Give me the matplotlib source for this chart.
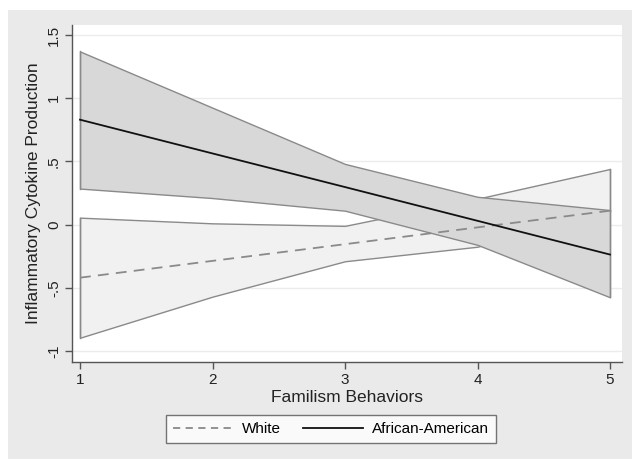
import matplotlib
matplotlib.use("Agg")
import matplotlib.pyplot as plt
from matplotlib.patches import Rectangle
from matplotlib.lines import Line2D

plt.rcParams['font.family'] = ['Liberation Sans', 'DejaVu Sans']

familism = [1, 2, 3, 4, 5]

# African-American: fitted line and 95% CI
aa_fit = [0.83, 0.563, 0.297, 0.030, -0.237]
aa_upper = [1.37, 0.925, 0.48, 0.22, 0.115]
aa_lower = [0.285, 0.21, 0.11, -0.16, -0.575]

# White: fitted line and 95% CI
wh_fit = [-0.42, -0.287, -0.155, -0.022, 0.11]
wh_upper = [0.055, 0.01, -0.01, 0.205, 0.44]
wh_lower = [-0.895, -0.57, -0.29, -0.175, 0.11]

yticks = [-1, -0.5, 0, 0.5, 1, 1.5]
ytick_labels = ["-1", "-.5", "0", ".5", "1", "1.5"]

fig = plt.figure(figsize=(6.32, 4.59), dpi=100, facecolor="white")
# outer grey background (Stata style)
fig.patches.append(Rectangle((8 / 632, 0), 1, 1 - 10 / 459, transform=fig.transFigure,
                             facecolor="#eaeaea", edgecolor="none", zorder=-10))

ax = fig.add_axes([72 / 632, 1 - 362 / 459, 550 / 632, 337 / 459])
ax.set_facecolor("white")

edge = "#8a8a8a"
ax.fill_between(familism, wh_lower, wh_upper, facecolor="#f1f1f1", edgecolor=edge, linewidth=1.0, zorder=2)
ax.plot([1, 1], [wh_lower[0], wh_upper[0]], color=edge, lw=1.0, zorder=2)
ax.plot([5, 5], [wh_lower[-1], wh_upper[-1]], color=edge, lw=1.0, zorder=2)
ax.fill_between(familism, aa_lower, aa_upper, facecolor="#d8d8d8", edgecolor=edge, linewidth=1.0, zorder=3)
ax.plot([1, 1], [aa_lower[0], aa_upper[0]], color=edge, lw=1.0, zorder=3)
ax.plot([5, 5], [aa_lower[-1], aa_upper[-1]], color=edge, lw=1.0, zorder=3)

ax.plot(familism, wh_fit, color="#8a8a8a", lw=1.3, ls=(0, (6, 4)), zorder=4)
ax.plot(familism, aa_fit, color="#111111", lw=1.3, zorder=5)

ax.set_xlim(1 - 8 / 132.5, 5 + 12 / 132.5)
ax.set_ylim(-1 - 11 / 126.4, 1.5 + 10 / 126.4)

ax.set_xticks(familism)
ax.set_xticklabels([str(v) for v in familism], fontsize=11, color="#222222")
ax.set_yticks(yticks)
ax.set_yticklabels(ytick_labels, fontsize=11, rotation=90, va="center", color="#222222")
ax.grid(axis="y", color="#ececec", lw=1.0, zorder=0)
ax.set_axisbelow(True)

for s in ["top", "right"]:
    ax.spines[s].set_visible(False)
for s in ["left", "bottom"]:
    ax.spines[s].set_color("#555555")
    ax.spines[s].set_linewidth(1.0)
ax.tick_params(axis="both", direction="out", length=5, width=1.0, color="#555555", pad=3)

ax.set_xlabel("Familism Behaviors", fontsize=12.5, color="#222222", labelpad=2)
ax.set_ylabel("Inflammatory Cytokine Production", fontsize=12.5, color="#222222", labelpad=4)

handles = [Line2D([], [], color="#8a8a8a", lw=1.3, ls=(0, (4, 3))),
           Line2D([], [], color="#111111", lw=1.3)]
leg = fig.legend(handles, ["White", "African-American"], loc="center",
                 bbox_to_anchor=(331 / 632, 1 - 429 / 459), ncol=2, fontsize=11,
                 frameon=True, fancybox=False, edgecolor="#555555", handlelength=3.9,
                 columnspacing=1.5, handletextpad=0.6, borderpad=0.45, borderaxespad=0)
leg.get_frame().set_linewidth(1.0)

fig.savefig("out.png", dpi=100, facecolor=fig.get_facecolor())
